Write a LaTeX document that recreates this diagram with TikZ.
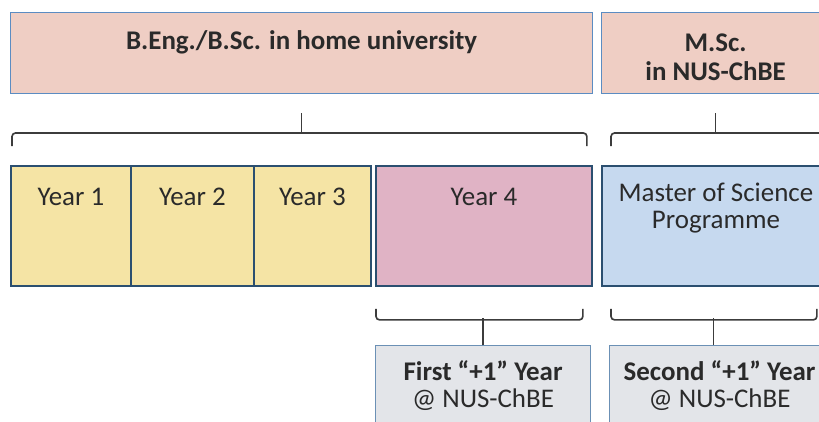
\documentclass[tikz,border=0pt]{standalone}
\usepackage{fontspec}
\setmainfont{Carlito}
\usetikzlibrary{positioning}
\tikzset{every picture/.style={line width=0.75pt}}
\definecolor{degfill}{HTML}{EFCEC4}
\definecolor{degline}{HTML}{5B8CC2}
\definecolor{yearfill}{HTML}{F5E4A5}
\definecolor{yearline}{HTML}{2B4F70}
\definecolor{lastfill}{HTML}{E0B3C5}
\definecolor{progfill}{HTML}{C6D9EF}
\definecolor{plusfill}{HTML}{E3E5E9}
\definecolor{plusline}{HTML}{6B90B5}
\definecolor{bracecol}{HTML}{3C3C3C}
\definecolor{txtgray}{HTML}{2A2A2A}

\begin{document}
\begin{tikzpicture}[x=0.03cm, y=-0.03cm,
    every node/.style={font=\fontsize{23}{23}\selectfont, text=txtgray},
    lbl/.style={inner sep=0pt, align=center, text height=0.55cm, text depth=0.15cm},
    degbox/.style={draw=degline, fill=degfill, line width=1pt, anchor=north west, inner sep=0pt, minimum height=2.43cm},
    yearbox/.style={draw=yearline, fill=yearfill, line width=1.6pt, anchor=north west, inner sep=0pt, minimum height=3.6cm},
    plusbox/.style={draw=plusline, fill=plusfill, line width=1pt, anchor=north west, inner sep=0pt, minimum height=3cm},
    brace/.style={draw=bracecol, line width=1.4pt, rounded corners=3pt}]
        \clip (0,0) rectangle (819,421);
        \fill[white] (0,0) rectangle (819,421);
        % degrees
        \node[degbox, minimum width=17.46cm, label={[lbl, below=0.57cm, font=\bfseries\fontsize{23}{23}\selectfont]north:B.Eng./B.Sc. in home university}] (bach) at (10,12) {};
        \node[degbox, minimum width=6.84cm, label={[lbl, below=1.5cm, font=\bfseries\fontsize{23}{25}\selectfont]north:M.Sc.\\in NUS-ChBE}] (msc) at (601,12) {};
        % years
        \node[yearbox, minimum width=3.6cm, label={[lbl, below=0.66cm]north:Year 1}] (y1) at (10,165) {};
        \node[yearbox, minimum width=3.69cm, label={[lbl, below=0.66cm]north:Year 2}] (y2) at (130,165) {};
        \node[yearbox, minimum width=3.51cm, label={[lbl, below=0.66cm]north:Year 3}] (y3) at (253,165) {};
        \node[yearbox, fill=lastfill, minimum width=6.48cm, label={[lbl, below=0.66cm]north:Year 4}] (y4) at (375,165) {};
        \node[yearbox, fill=progfill, minimum width=6.84cm, label={[lbl, below=1.35cm]north:Master of Science\\Programme}] (prog) at (601,165) {};
        % +1 years
        \node[plusbox, minimum width=6.45cm, label={[lbl, below=1.32cm]north:\textbf{First “+1” Year}\\@ NUS-ChBE}] (first) at (375,345) {};
        \node[plusbox, minimum width=6.6cm, label={[lbl, below=1.32cm]north:\textbf{Second “+1” Year}\\@ NUS-ChBE}] (second) at (609,345) {};
        % braces
        \draw[brace] ([shift={(2,-19)}]y1.north west) -- ++(0,-13) -| ([shift={(-6,-19)}]y4.north east);
        \draw[brace] ([shift={(0,19)}]bach.south) -- ++(0,21);
        \draw[brace] ([shift={(10,-19)}]prog.north west) -- ++(0,-13) -| ([shift={(-5,-19)}]prog.north east);
        \draw[brace] ([shift={(0,19)}]msc.south) -- ++(0,21);
        \draw[brace] ([shift={(1,22)}]y4.south west) -- ++(0,11) -| ([shift={(-10,22)}]y4.south east);
        \draw[brace] (first.north) -- ++(0,-27);
        \draw[brace] ([shift={(10,22)}]prog.south west) -- ++(0,11) -| ([shift={(-14,22)}]prog.south east);
        \draw[brace] ([shift={(-6,0)}]second.north) -- ++(0,-27);
    \end{tikzpicture}
\end{document}
